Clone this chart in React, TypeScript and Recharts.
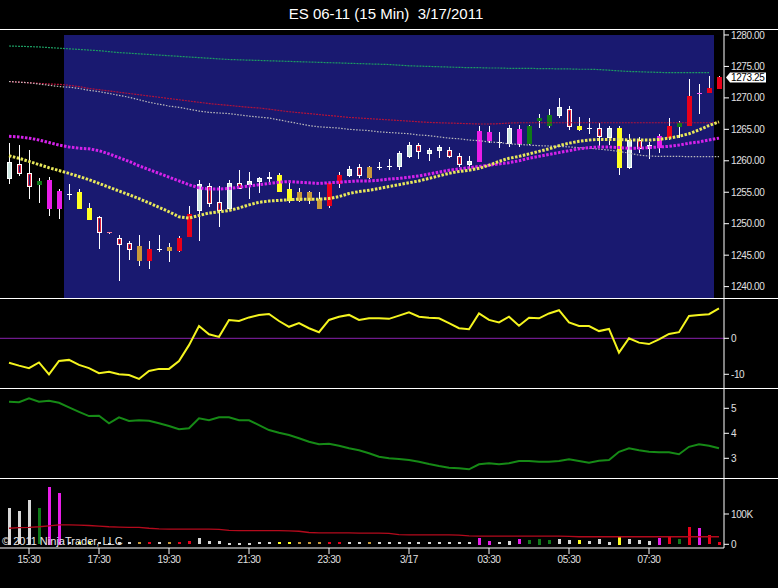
import React from 'react';
import {
  Bar,
  ComposedChart,
  Line,
  ReferenceArea,
  ReferenceLine,
  XAxis,
  YAxis,
} from 'recharts';

const FONT = '"Liberation Sans", Arial, sans-serif';
const NAVY = '#191970';
const W = 778;
const AXIS_W = 54;
const X_DOMAIN: [number, number] = [-0.9, 71.5];

// bottom axis: bar index of each label
const tickBars = [2, 9, 16, 24, 32, 40, 48, 56, 64];
const tickLabels = ['15:30', '17:30', '19:30', '21:30', '23:30', '3/17', '03:30', '05:30', '07:30'];

const priceTicks = [1240, 1245, 1250, 1255, 1260, 1265, 1270, 1275, 1280];
const oscTicks = [-10, 0];
const rangeTicks = [3, 4, 5];
const volTicks = [0, 100];
const lastPrice = 1273.25;
// highlighted session (bar indices)
const sessionStart = 5.5;
const sessionEnd = 70.5;

// 15 min bars
const opens = [
  1259.75, 1259.5, 1258.0, 1256.75, 1257.0, 1255.25, 1254.75, 1255.0, 1252.5, 1251.0, 1248.75, 1247.75,
  1247.0, 1246.5, 1246.0, 1246.0, 1246.25, 1247.75, 1251.5, 1256.25, 1256.0, 1253.5, 1256.5, 1256.5,
  1256.75, 1257.25, 1257.5, 1257.75, 1255.5, 1255.0, 1255.0, 1254.0, 1256.5, 1257.75, 1258.75, 1259.0,
  1259.0, 1259.0, 1259.25, 1261.25, 1262.5, 1262.5, 1261.75, 1262.25, 1261.75, 1260.75, 1260.0, 1264.75,
  1264.5, 1263.0, 1265.25, 1265.0, 1265.5, 1266.75, 1267.25, 1268.5, 1268.25, 1265.5, 1265.25, 1265.25,
  1265.25, 1265.25, 1263.25, 1263.25, 1262.5, 1264.0, 1265.5, 1266.0, 1270.25, 1270.75, 1271.5, 1271.5,
];
const highs = [
  1262.75, 1262.5, 1261.75, 1257.25, 1257.5, 1255.5, 1256.25, 1255.5, 1253.25, 1251.25, 1248.75, 1248.25,
  1247.25, 1248.25, 1247.25, 1248.25, 1247.0, 1248.0, 1252.75, 1257.0, 1256.5, 1256.0, 1257.0, 1258.5,
  1258.25, 1257.5, 1258.25, 1258.0, 1256.5, 1255.75, 1255.25, 1255.0, 1256.5, 1258.25, 1259.25, 1259.5,
  1259.25, 1259.75, 1260.25, 1261.5, 1263.0, 1262.75, 1262.0, 1262.5, 1262.25, 1261.25, 1260.75, 1265.5,
  1265.5, 1264.5, 1265.75, 1265.75, 1265.75, 1267.5, 1268.25, 1270.0, 1268.75, 1267.0, 1266.75, 1266.0,
  1265.5, 1265.5, 1264.25, 1263.75, 1263.0, 1264.25, 1266.75, 1266.25, 1273.0, 1272.25, 1273.5, 1273.5,
];
const lows = [
  1256.25, 1257.5, 1254.0, 1253.25, 1251.25, 1250.75, 1253.75, 1252.25, 1250.5, 1246.0, 1248.5, 1241.0,
  1244.25, 1243.25, 1242.75, 1245.5, 1244.0, 1245.5, 1247.75, 1247.25, 1252.75, 1249.5, 1252.25, 1255.5,
  1254.0, 1255.0, 1256.5, 1255.0, 1253.25, 1253.5, 1253.25, 1252.5, 1252.5, 1255.75, 1257.5, 1257.25,
  1257.25, 1258.5, 1258.5, 1258.5, 1260.5, 1260.25, 1260.0, 1260.5, 1260.5, 1259.0, 1258.5, 1259.75,
  1262.75, 1262.0, 1262.25, 1262.25, 1262.5, 1265.25, 1265.25, 1266.75, 1265.0, 1264.75, 1264.25, 1262.0,
  1262.5, 1257.75, 1258.75, 1261.25, 1260.25, 1261.25, 1263.25, 1263.5, 1265.5, 1267.5, 1270.75, 1271.5,
];
const closes = [
  1257.25, 1258.0, 1256.0, 1256.25, 1252.5, 1252.5, 1254.75, 1252.5, 1250.75, 1248.75, 1248.75, 1246.75,
  1246.0, 1244.25, 1244.25, 1246.0, 1245.75, 1245.75, 1248.0, 1252.25, 1253.25, 1252.25, 1252.5, 1255.75,
  1256.25, 1256.75, 1257.25, 1255.25, 1253.75, 1253.75, 1253.75, 1252.5, 1253.0, 1256.5, 1257.75, 1257.75,
  1257.5, 1259.0, 1259.25, 1259.25, 1260.75, 1261.5, 1261.25, 1261.75, 1260.75, 1259.5, 1259.5, 1260.0,
  1263.25, 1263.0, 1262.75, 1262.75, 1262.75, 1266.5, 1265.75, 1267.25, 1265.5, 1265.0, 1265.25, 1264.0,
  1263.75, 1259.0, 1259.0, 1262.0, 1262.0, 1262.25, 1263.75, 1265.5, 1265.75, 1270.75, 1271.0, 1273.25,
];
// bar paint state: w up, r hollow down, x doji, y yellow, g tan, G green, m magenta, R red
const kinds = [
  'w', 'r', 'r', 'G', 'm', 'm', 'x', 'y', 'y', 'r', 'r', 'r',
  'r', 'g', 'R', 'x', 'g', 'R', 'R', 'w', 'r', 'r', 'w', 'r',
  'w', 'w', 'w', 'y', 'y', 'g', 'g', 'g', 'R', 'R', 'w', 'r',
  'g', 'x', 'x', 'w', 'w', 'r', 'w', 'w', 'r', 'r', 'w', 'm',
  'm', 'x', 'w', 'm', 'G', 'G', 'G', 'w', 'r', 'y', 'x', 'r',
  'w', 'y', 'w', 'r', 'w', 'm', 'R', 'G', 'R', 'm', 'R', 'R',
];

// price overlays
const envTop = [
  1278.25, 1278.2, 1278.15, 1278.1, 1278.0, 1277.9, 1277.8, 1277.7, 1277.6, 1277.5, 1277.35, 1277.2,
  1277.1, 1277.0, 1276.9, 1276.8, 1276.7, 1276.6, 1276.5, 1276.4, 1276.3, 1276.2, 1276.1, 1276.05,
  1276.0, 1275.95, 1275.9, 1275.85, 1275.8, 1275.75, 1275.7, 1275.65, 1275.6, 1275.55, 1275.5, 1275.45,
  1275.4, 1275.35, 1275.3, 1275.2, 1275.1, 1275.05, 1275.0, 1274.95, 1274.9, 1274.85, 1274.8, 1274.8,
  1274.75, 1274.75, 1274.7, 1274.7, 1274.7, 1274.65, 1274.65, 1274.6, 1274.6, 1274.55, 1274.55, 1274.5,
  1274.4, 1274.3, 1274.2, 1274.15, 1274.1, 1274.05, 1274.0, 1274.0, 1274.0, 1274.0, 1274.0, null,
];
const maRed = [
  1272.6, 1272.5, 1272.4, 1272.3, 1272.2, 1272.15, 1272.0, 1271.8, 1271.5, 1271.3, 1271.1, 1270.9,
  1270.7, 1270.5, 1270.3, 1270.1, 1269.9, 1269.7, 1269.5, 1269.3, 1269.1, 1268.95, 1268.8, 1268.65,
  1268.5, 1268.4, 1268.2, 1268.0, 1267.8, 1267.65, 1267.5, 1267.35, 1267.2, 1267.05, 1266.9, 1266.8,
  1266.7, 1266.6, 1266.5, 1266.4, 1266.3, 1266.2, 1266.1, 1266.05, 1266.0, 1265.95, 1265.9, 1265.85,
  1265.85, 1265.9, 1266.0, 1266.05, 1266.05, 1266.05, 1266.05, 1266.05, 1266.05, 1266.05, 1266.05, 1266.05,
  1266.05, 1266.05, 1266.05, 1266.05, 1266.05, 1266.05, 1266.05, 1266.05, 1266.05, 1266.05, 1266.05, 1266.05,
];
const maGray = [
  1272.6, 1272.5, 1272.4, 1272.2, 1272.0, 1271.8, 1271.7, 1271.5, 1271.2, 1271.0, 1270.7, 1270.4,
  1270.1, 1269.7, 1269.3, 1269.0, 1268.7, 1268.5, 1268.2, 1267.9, 1267.7, 1267.6, 1267.5, 1267.3,
  1267.1, 1266.95, 1266.8, 1266.5, 1266.2, 1265.9, 1265.6, 1265.4, 1265.3, 1265.2, 1265.0, 1264.9,
  1264.8, 1264.6, 1264.5, 1264.4, 1264.3, 1264.1, 1264.0, 1263.8, 1263.6, 1263.5, 1263.3, 1263.2,
  1263.0, 1262.9, 1262.7, 1262.6, 1262.5, 1262.4, 1262.35, 1262.3, 1262.2, 1262.1, 1262.0, 1261.85,
  1261.7, 1261.5, 1261.2, 1260.9, 1260.75, 1260.7, 1260.7, 1260.7, 1260.65, 1260.65, 1260.65, 1260.65,
];
const maMagenta = [
  1263.9, 1263.8, 1263.6, 1263.3, 1262.9, 1262.5, 1262.2, 1262.0, 1261.9, 1261.6, 1261.1, 1260.5,
  1259.9, 1259.2, 1258.6, 1258.0, 1257.4, 1256.8, 1256.2, 1255.7, 1255.5, 1255.5, 1255.6, 1255.8,
  1256.0, 1256.2, 1256.4, 1256.6, 1256.7, 1256.6, 1256.5, 1256.4, 1256.5, 1256.6, 1256.7, 1256.8,
  1256.8, 1256.9, 1257.1, 1257.2, 1257.4, 1257.6, 1257.9, 1258.2, 1258.5, 1258.7, 1258.9, 1259.1,
  1259.3, 1259.5, 1259.7, 1260.0, 1260.4, 1260.7, 1261.0, 1261.3, 1261.6, 1261.9, 1262.1, 1262.2,
  1262.2, 1262.1, 1262.0, 1262.0, 1262.1, 1262.2, 1262.3, 1262.5, 1262.8, 1263.0, 1263.3, 1263.6,
];
const maYellow = [
  1260.8, 1260.4, 1259.9, 1259.4, 1258.9, 1258.45, 1258.0, 1257.5, 1257.0, 1256.4, 1255.8, 1255.2,
  1254.6, 1254.0, 1253.3, 1252.6, 1251.9, 1251.1, 1250.9, 1251.3, 1251.7, 1251.9, 1252.1, 1252.5,
  1253.0, 1253.4, 1253.6, 1253.7, 1253.8, 1253.9, 1253.9, 1253.9, 1254.0, 1254.3, 1254.8, 1255.1,
  1255.3, 1255.6, 1255.9, 1256.2, 1256.5, 1256.8, 1257.2, 1257.6, 1258.0, 1258.3, 1258.5, 1258.8,
  1259.3, 1259.9, 1260.4, 1260.7, 1261.1, 1261.5, 1261.9, 1262.4, 1262.8, 1263.1, 1263.3, 1263.4,
  1263.4, 1263.4, 1263.3, 1263.3, 1263.3, 1263.4, 1263.6, 1263.9, 1264.3, 1264.9, 1265.6, 1266.2,
];

// lower panels
const oscillator = [
  -6.8, -7.6, -8.3, -6.7, -10, -6.3, -6.0, -7.4, -8.3, -9.7, -9.3, -10,
  -10.2, -11.3, -9.1, -8.5, -8.5, -6.3, -1.9, 3.4, 1.1, 0.4, 5.1, 4.8,
  5.8, 6.5, 6.75, 4.8, 3.2, 4.2, 2.8, 1.7, 5.1, 6.0, 6.5, 5.1,
  5.55, 5.55, 5.4, 6.3, 7.2, 6.0, 5.7, 5.55, 4.2, 2.8, 2.5, 6.9,
  5.1, 4.4, 6.0, 3.5, 5.7, 5.55, 6.9, 7.8, 4.4, 3.4, 3.4, 2.0,
  2.6, -4.0, 0, -1.2, -1.6, -0.3, 1.2, 1.7, 6.2, 6.5, 6.7, 8.3,
];
const avgRange = [
  5.26, 5.24, 5.4, 5.26, 5.3, 5.22, 5.04, 4.86, 4.69, 4.7, 4.4, 4.64,
  4.49, 4.52, 4.5, 4.4, 4.29, 4.16, 4.2, 4.6, 4.52, 4.64, 4.64, 4.52,
  4.52, 4.33, 4.13, 4.02, 3.93, 3.8, 3.66, 3.56, 3.58, 3.5, 3.4, 3.32,
  3.2, 3.06, 3.0, 2.97, 2.93, 2.86, 2.77, 2.69, 2.62, 2.6, 2.56, 2.76,
  2.8, 2.76, 2.8, 2.89, 2.89, 2.86, 2.86, 2.89, 2.96, 2.89, 2.82, 2.9,
  2.93, 3.26, 3.4, 3.32, 3.26, 3.24, 3.24, 3.16, 3.46, 3.56, 3.5, 3.4,
];
// volume in thousands
const volumes = [
  121, 110, 146, 119, 190, 170, 7, 6, 6, 6, 5, 6,
  6, 6, 6, 6, 6, 6, 11, 20, 11, 10, 5, 5,
  5, 6, 6, 6, 6, 6, 6, 6, 6, 6, 6, 6,
  6, 6, 6, 6, 6, 6, 6, 6, 6, 6, 6, 22,
  12, 6, 12, 18, 14, 19, 14, 18, 14, 14, 10, 16,
  9, 25, 17, 14, 12, 22, 27, 17, 58, 55, 31, 9,
];
const volumeAvg = [
  53, 55, 56, 58, 61, 64, 64, 63, 62, 60, 58, 57,
  56, 56, 53, 51, 50, 50, 50, 50, 50, 49, 46, 45,
  45, 45, 45, 45, 44, 43, 39, 38, 38, 38, 38, 37,
  37, 37, 36, 32, 31, 31, 31, 31, 31, 30, 28, 27,
  27, 27, 27, 27, 27, 27, 27, 27, 26, 25, 25, 25,
  25, 25, 25, 25, 25, 25, 25, 25, 25, 25, 25, 25,
];

const STYLE: Record<string, { body: string; inner?: string; core?: string; dash: string; vol: string }> = {
  w: { body: '#ffffff', inner: '#cfe9e2', dash: '#ffffff', vol: '#d8d8d8' },
  r: { body: '#ffffff', inner: '#d8203c', core: NAVY, dash: '#f07898', vol: '#d8d8d8' },
  x: { body: '#ffffff', dash: '#ffffff', vol: '#d8d8d8' },
  y: { body: '#ffff22', dash: '#ffff22', vol: '#ffff22' },
  g: { body: '#c89a3a', dash: '#c89a3a', vol: '#c89a3a' },
  G: { body: '#0f7a18', dash: '#0f7a18', vol: '#0f7a18' },
  m: { body: '#e81ee8', dash: '#f060f0', vol: '#e81ee8' },
  R: { body: '#e8001a', dash: '#e8001a', vol: '#e8001a' },
};

const rows = opens.map((open, i) => ({
  i,
  open,
  high: highs[i],
  low: lows[i],
  close: closes[i],
  kind: kinds[i],
  range: [lows[i], highs[i]],
  envTop: envTop[i],
  maRed: maRed[i],
  maGray: maGray[i],
  maMagenta: maMagenta[i],
  maYellow: maYellow[i],
  osc: oscillator[i],
  avgRange: avgRange[i],
  vol: volumes[i],
  volAvg: volumeAvg[i],
}));

function Candle(props: any) {
  const { x, y, width, height, payload } = props;
  if (!payload) return null;
  const { open, high, low, close, kind } = payload;
  const s = STYLE[kind];
  const cx = Math.round(x + width / 2);
  const top = Math.min(y, y + height);
  const span = Math.abs(height);
  const py = (v: number) => top + ((high - v) * span) / (high - low);
  const bTop = Math.round(py(Math.max(open, close)));
  const bBot = Math.round(py(Math.min(open, close)));
  const h = bBot - bTop;
  let body: React.ReactNode;
  if (h < 1) {
    body = <rect x={cx - 2} y={bTop} width={5} height={1} fill={s.dash} />;
  } else {
    body = (
      <g>
        <rect x={cx - 2} y={bTop} width={5} height={h + 1} fill={s.body} />
        {s.inner && h >= 2 && <rect x={cx - 1} y={bTop + 1} width={3} height={h - 1} fill={s.inner} />}
        {s.core && h >= 4 && <rect x={cx} y={bTop + 2} width={1} height={h - 3} fill={s.core} />}
      </g>
    );
  }
  return (
    <g>
      <rect x={cx} y={Math.round(top)} width={1} height={Math.max(1, Math.round(span))} fill="#ffffff" />
      {body}
    </g>
  );
}

function VolumeBar(props: any) {
  const { x, y, width, height, payload } = props;
  if (!payload) return null;
  const cx = Math.round(x + width / 2);
  const t = Math.round(Math.min(y, y + height));
  const h = Math.max(1, Math.round(Math.abs(height)));
  return <rect x={cx - 1} y={t} width={3} height={h} fill={STYLE[payload.kind].vol} />;
}

function PriceTag(props: any) {
  const vb = props.viewBox || {};
  const ax = (vb.x ?? 0) + (vb.width ?? 0);
  const y = vb.y ?? 0;
  return (
    <g>
      <polygon
        points={`${ax + 2},${y} ${ax + 6},${y - 5} ${ax + 42},${y - 5} ${ax + 42},${y + 5} ${ax + 6},${y + 5}`}
        fill="#ffffff"
      />
      <text
        x={ax + 7}
        y={y}
        dy="0.36em"
        fill="#000000"
        fontSize={10}
        letterSpacing={-0.4}
        fontFamily={FONT}
      >
        {lastPrice.toFixed(2)}
      </text>
    </g>
  );
}

const tickStyle = { fill: '#e0e0e0', fontSize: 10, fontFamily: FONT, letterSpacing: -0.4 };
const margin = { top: 0, right: 0, bottom: 0, left: 0 };

function RightAxis({ domain, ticks, fmt }: { domain: [number, number]; ticks: number[]; fmt?: (v: number) => string }) {
  return (
    <YAxis
      orientation="right"
      width={AXIS_W}
      type="number"
      domain={domain}
      ticks={ticks}
      interval={0}
      allowDataOverflow
      tickFormatter={fmt}
      axisLine={{ stroke: '#ffffff' }}
      tickLine={{ stroke: '#ffffff' }}
      tickSize={5}
      tickMargin={2}
      tick={tickStyle}
    />
  );
}

function Panel({ top, children }: { top: number; children: React.ReactNode }) {
  return <div style={{ position: 'absolute', left: 0, top }}>{children}</div>;
}

function Rule({ top, width = W }: { top: number; width?: number }) {
  return <div style={{ position: 'absolute', left: 0, top, width, height: 1, background: '#ffffff' }} />;
}

export default function App() {
  const hiddenX = <XAxis dataKey="i" type="number" domain={X_DOMAIN} allowDataOverflow hide />;
  return (
    <div
      style={{
        position: 'absolute',
        left: 0,
        top: 0,
        width: W,
        height: 588,
        background: '#000000',
        overflow: 'hidden',
        fontFamily: FONT,
      }}
    >
      <div
        style={{
          position: 'absolute',
          left: 0,
          top: 6,
          width: 772,
          textAlign: 'center',
          color: '#ffffff',
          fontSize: 15,
          lineHeight: '15px',
          whiteSpace: 'pre',
        }}
      >
        {'ES 06-11 (15 Min)  3/17/2011'}
      </div>

      <Panel top={30}>
        <ComposedChart width={W} height={268} data={rows} margin={margin}>
          {hiddenX}
          {RightAxis({ domain: [1238.19, 1280.79], ticks: priceTicks, fmt: (v) => v.toFixed(2) })}
          <ReferenceArea
            x1={sessionStart}
            x2={sessionEnd}
            y1={1238.19}
            y2={1280}
            fill={NAVY}
            fillOpacity={1}
            stroke="none"
            ifOverflow="hidden"
          />
          <Line dataKey="envTop" stroke="#1c9c62" strokeWidth={1.2} strokeDasharray="2 1" dot={false} activeDot={false} isAnimationActive={false} />
          <Line dataKey="maRed" stroke="#b3123a" strokeWidth={1.2} strokeDasharray="2 1" dot={false} activeDot={false} isAnimationActive={false} />
          <Line dataKey="maGray" stroke="#bcbcbc" strokeWidth={1.2} strokeDasharray="1.5 1.5" dot={false} activeDot={false} isAnimationActive={false} />
          <Line dataKey="maMagenta" stroke="#d522ea" strokeWidth={3} strokeDasharray="2.5 1.5" dot={false} activeDot={false} isAnimationActive={false} />
          <Line dataKey="maYellow" stroke="#e8e85a" strokeWidth={3} strokeDasharray="2.5 1.5" dot={false} activeDot={false} isAnimationActive={false} />
          <Bar dataKey="range" barSize={5} shape={(p: any) => <Candle {...p} />} isAnimationActive={false} />
          <ReferenceLine y={lastPrice} stroke="none" label={(p: any) => <PriceTag {...p} />} />
        </ComposedChart>
      </Panel>

      <Panel top={299}>
        <ComposedChart width={W} height={89} data={rows} margin={margin}>
          {hiddenX}
          {RightAxis({ domain: [-13.81, 10.92], ticks: oscTicks, fmt: (v) => String(v) })}
          <ReferenceLine y={0} stroke="#8a22b0" strokeWidth={1} />
          <Line dataKey="osc" stroke="#f4f41e" strokeWidth={2} dot={false} activeDot={false} isAnimationActive={false} />
        </ComposedChart>
      </Panel>

      <Panel top={389}>
        <ComposedChart width={W} height={89} data={rows} margin={margin}>
          {hiddenX}
          {RightAxis({ domain: [2.212, 5.772], ticks: rangeTicks, fmt: (v) => String(v) })}
          <Line dataKey="avgRange" stroke="#168a16" strokeWidth={2} dot={false} activeDot={false} isAnimationActive={false} />
        </ComposedChart>
      </Panel>

      <Panel top={479}>
        <ComposedChart width={W} height={109} data={rows} margin={margin}>
          <XAxis
            dataKey="i"
            type="number"
            domain={X_DOMAIN}
            allowDataOverflow
            ticks={tickBars}
            interval={0}
            height={40}
            tickFormatter={(v: number) => tickLabels[tickBars.indexOf(v)] ?? ''}
            axisLine={{ stroke: '#ffffff' }}
            tickLine={{ stroke: '#ffffff' }}
            tickSize={6}
            tickMargin={2}
            tick={tickStyle}
          />
          {RightAxis({ domain: [-12.2, 215.5], ticks: volTicks, fmt: (v) => (v === 0 ? '0' : `${v}K`) })}
          <Bar dataKey="vol" barSize={3} shape={(p: any) => <VolumeBar {...p} />} isAnimationActive={false} />
          <Line dataKey="volAvg" stroke="#b40a1c" strokeWidth={1.3} dot={false} activeDot={false} isAnimationActive={false} />
        </ComposedChart>
      </Panel>

      <Rule top={29} />
      <Rule top={298} />
      <Rule top={388} />
      <Rule top={478} />

      <div
        style={{
          position: 'absolute',
          left: 2,
          top: 536,
          color: '#e8e8e8',
          fontSize: 11,
          lineHeight: '11px',
          whiteSpace: 'pre',
        }}
      >
        {'© 2011 NinjaTrader, LLC'}
      </div>
    </div>
  );
}
